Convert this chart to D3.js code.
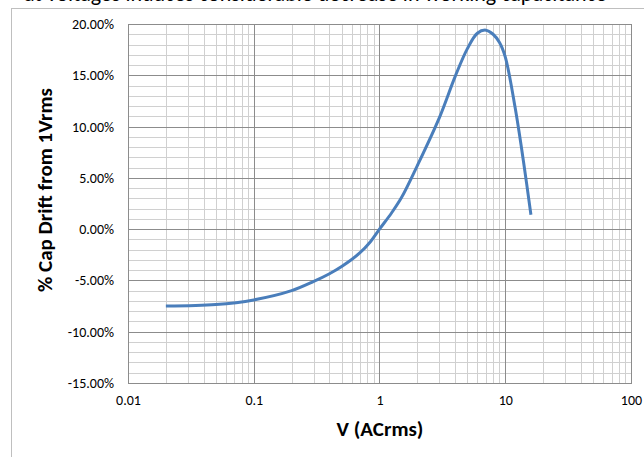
<!DOCTYPE html>
<html>
<head>
<meta charset="utf-8">
<script src="https://cdn.jsdelivr.net/npm/d3@7/dist/d3.min.js"></script>
<style>
  html, body { margin: 0; padding: 0; background: #fff; }
  svg { display: block; }
</style>
</head>
<body>
<svg id="chart" width="644" height="457"></svg>
<script>
// ---- data ----
const voltage = [0.02, 0.05, 0.1, 0.2, 0.3, 0.4, 0.5, 0.7, 0.85, 1.0, 1.25, 1.5, 2.0, 3.0, 4.0, 5.0, 6.0, 7.0, 8.0, 9.0, 10.0, 12.0, 14.0, 16.0];
const capDrift = [-7.5, -7.35, -6.9, -6.0, -5.1, -4.35, -3.65, -2.3, -1.2, 0.0, 1.6, 3.1, 6.2, 10.9, 14.9, 17.6, 19.1, 19.4, 19.0, 18.2, 16.8, 11.8, 6.5, 1.4];
const xTicks = [0.01, 0.1, 1, 10, 100];
const xTickLabels = ["0.01", "0.1", "1", "10", "100"];
const yTicks = [20, 15, 10, 5, 0, -5, -10, -15];
const yTickLabels = ["20.00%", "15.00%", "10.00%", "5.00%", "0.00%", "-5.00%", "-10.00%", "-15.00%"];
const xTitle = "V (ACrms)";
const yTitle = "% Cap Drift from 1Vrms";
const clippedHeading = "at voltages induces considerable decrease in working capacitance";

// ---- layout ----
const svg = d3.select("#chart");
const L = 128, R = 631, T = 24, B = 383;
const x = d3.scaleLog().domain([0.01, 100]).range([L, R]);
const y = d3.scaleLinear().domain([-15, 20]).range([B, T]);
const font = "Calibri, Carlito, 'Liberation Sans', Arial, sans-serif";

// heading text, cut off by the top edge as in the reference
svg.append("text")
  .attr("x", 24).attr("y", 1)
  .attr("font-family", font).attr("font-size", 22)
  .attr("fill", "#000")
  .text(clippedHeading);

// outer chart border
svg.append("rect")
  .attr("x", 11.5).attr("y", 8.5).attr("width", 700).attr("height", 500)
  .attr("fill", "#fff").attr("stroke", "#bfbfbf").attr("stroke-width", 1);

// minor grid
const minorX = [];
for (let d = 0.01; d < 100; d *= 10) for (let k = 2; k <= 9; k++) minorX.push(d * k);
const minorY = d3.range(-15, 21, 1).filter(v => v % 5 !== 0);
const g = svg.append("g");
g.selectAll(".mx").data(minorX).join("line")
  .attr("x1", d => Math.round(x(d)) + 0.5).attr("x2", d => Math.round(x(d)) + 0.5)
  .attr("y1", T).attr("y2", B).attr("stroke", "#d0d0d0").attr("stroke-width", 1);
g.selectAll(".my").data(minorY).join("line")
  .attr("x1", L).attr("x2", R)
  .attr("y1", d => Math.round(y(d)) + 0.5).attr("y2", d => Math.round(y(d)) + 0.5)
  .attr("stroke", "#d0d0d0").attr("stroke-width", 1);
// major grid
g.selectAll(".Mx").data(xTicks).join("line")
  .attr("x1", d => Math.round(x(d)) + 0.5).attr("x2", d => Math.round(x(d)) + 0.5)
  .attr("y1", T).attr("y2", B).attr("stroke", "#8c8c8c").attr("stroke-width", 1);
g.selectAll(".My").data(yTicks).join("line")
  .attr("x1", L).attr("x2", R)
  .attr("y1", d => Math.round(y(d)) + 0.5).attr("y2", d => Math.round(y(d)) + 0.5)
  .attr("stroke", "#8c8c8c").attr("stroke-width", 1);
// plot border
svg.append("rect")
  .attr("x", L + 0.5).attr("y", T + 0.5).attr("width", R - L).attr("height", B - T)
  .attr("fill", "none").attr("stroke", "#8c8c8c");

// tick labels via d3 axes (lines hidden)
const xAxis = svg.append("g").attr("transform", `translate(0,${B})`)
  .call(d3.axisBottom(x).tickValues(xTicks).tickFormat((d, i) => xTickLabels[i]).tickSize(0).tickPadding(12));
xAxis.select(".domain").remove();
xAxis.selectAll("text").attr("font-family", font).attr("font-size", 14).attr("fill", "#000");

const yAxis = svg.append("g").attr("transform", `translate(${L},0)`)
  .call(d3.axisLeft(y).tickValues(yTicks).tickFormat((d, i) => yTickLabels[i]).tickSize(0).tickPadding(14));
yAxis.select(".domain").remove();
yAxis.selectAll("text").attr("font-family", font).attr("font-size", 14).attr("fill", "#000");

// axis titles
svg.append("text")
  .attr("x", 380).attr("y", 436)
  .attr("text-anchor", "middle")
  .attr("font-family", font).attr("font-size", 21).attr("font-weight", "bold")
  .text(xTitle);
svg.append("text")
  .attr("transform", "translate(52,190) rotate(-90)")
  .attr("text-anchor", "middle")
  .attr("font-family", font).attr("font-size", 21).attr("font-weight", "bold")
  .text(yTitle);

// curve
const pts = voltage.map((v, i) => [v, capDrift[i]]);
svg.append("path")
  .datum(pts)
  .attr("fill", "none")
  .attr("stroke", "#4a7ebb")
  .attr("stroke-width", 3)
  .attr("stroke-linejoin", "round")
  .attr("d", d3.line().x(d => x(d[0])).y(d => y(d[1])).curve(d3.curveCatmullRom.alpha(0.5)));
</script>
</body>
</html>
